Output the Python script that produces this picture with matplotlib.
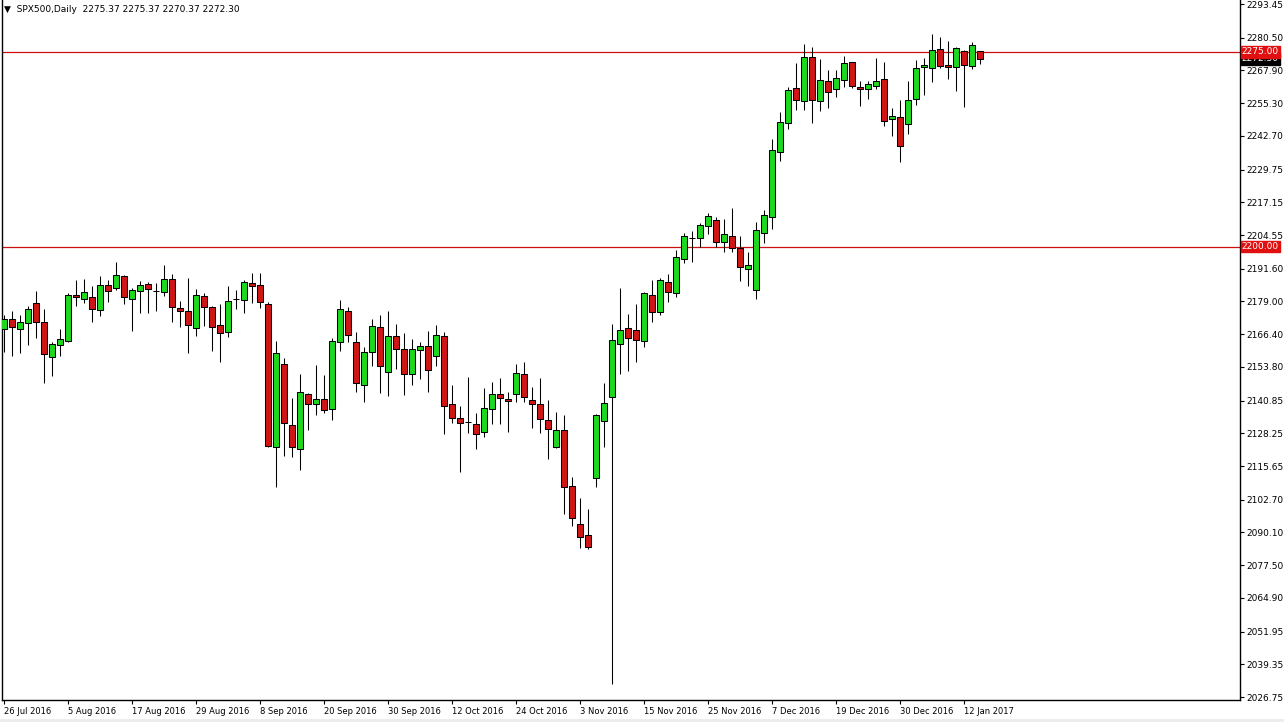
import numpy as np
import matplotlib
matplotlib.use('Agg')
import matplotlib.pyplot as plt

# **** data (SPX500 daily) ****
opens = [2168.3, 2172.1, 2168.5, 2170.6, 2178.3, 2171.0, 2157.7, 2162.1, 2163.8, 2181.5,
         2179.8, 2180.6, 2175.6, 2185.3, 2184.1, 2188.8, 2179.8, 2183.1, 2185.7, 2182.9,
         2182.5, 2187.5, 2176.4, 2175.2, 2168.7, 2181.1, 2177.0, 2169.9, 2167.4, 2179.8,
         2179.7, 2186.0, 2185.3, 2177.9, 2123.1, 2154.8, 2131.3, 2122.1, 2143.4, 2139.4,
         2141.3, 2137.5, 2163.3, 2175.2, 2163.4, 2146.7, 2159.7, 2169.1, 2152.0, 2165.7,
         2160.6, 2150.9, 2160.2, 2161.7, 2158.1, 2165.6, 2139.4, 2134.0, 2132.6, 2131.7,
         2128.6, 2137.5, 2143.3, 2141.3, 2143.3, 2150.9, 2140.9, 2139.4, 2133.3, 2123.1,
         2129.4, 2107.9, 2093.2, 2089.0, 2111.2, 2133.1, 2142.1, 2162.7, 2168.7, 2167.9,
         2163.7, 2181.4, 2174.8, 2186.4, 2182.4, 2195.5, 2203.4, 2203.3, 2208.1, 2210.2,
         2201.8, 2204.1, 2199.7, 2191.4, 2183.3, 2205.2, 2211.4, 2236.5, 2247.6, 2261.0,
         2256.0, 2273.0, 2256.0, 2263.7, 2260.6, 2264.1, 2271.0, 2261.4, 2260.6, 2261.8,
         2264.5, 2249.1, 2249.9, 2247.2, 2256.8, 2269.1, 2268.7, 2276.0, 2270.1, 2269.1,
         2275.5, 2269.5, 2275.37]
highs = [2173.8, 2175.3, 2173.8, 2177.2, 2183.0, 2176.1, 2163.5, 2168.3, 2182.4, 2187.3,
         2187.6, 2184.9, 2188.8, 2187.3, 2194.0, 2189.2, 2184.1, 2186.9, 2186.4, 2186.0,
         2193.0, 2189.6, 2179.2, 2187.9, 2183.8, 2182.4, 2177.2, 2178.0, 2184.9, 2183.4,
         2187.3, 2189.8, 2189.8, 2178.9, 2163.8, 2157.1, 2141.8, 2151.1, 2143.9, 2154.5,
         2150.7, 2164.8, 2179.6, 2177.0, 2167.4, 2161.4, 2172.1, 2173.8, 2175.3, 2170.3,
         2166.7, 2164.4, 2163.4, 2167.6, 2169.9, 2167.2, 2146.7, 2138.8, 2149.8, 2136.0,
         2145.7, 2147.9, 2149.5, 2144.0, 2154.8, 2155.6, 2146.2, 2149.4, 2141.1, 2136.4,
         2135.3, 2111.3, 2103.4, 2099.1, 2135.5, 2147.6, 2170.3, 2184.1, 2174.2, 2178.0,
         2182.6, 2187.1, 2187.9, 2189.6, 2198.8, 2205.5, 2206.1, 2209.3, 2213.1, 2211.5,
         2210.7, 2214.8, 2204.2, 2198.0, 2209.5, 2214.2, 2241.4, 2251.9, 2261.6, 2270.8,
         2278.1, 2276.9, 2272.2, 2267.9, 2268.1, 2273.5, 2271.3, 2263.8, 2263.8, 2272.7,
         2271.1, 2253.4, 2256.5, 2263.7, 2271.8, 2272.7, 2281.9, 2280.6, 2279.2, 2276.8,
         2275.7, 2278.7, 2275.37]
lows = [2159.7, 2158.1, 2159.0, 2162.2, 2165.1, 2147.5, 2150.4, 2158.1, 2163.5, 2177.3,
        2178.3, 2171.2, 2173.5, 2178.9, 2183.4, 2177.9, 2167.7, 2174.4, 2174.4, 2175.4,
        2181.2, 2171.0, 2169.3, 2159.0, 2165.8, 2169.7, 2160.1, 2155.8, 2165.4, 2176.1,
        2174.4, 2178.3, 2176.6, 2123.1, 2107.7, 2119.6, 2119.3, 2114.1, 2129.5, 2135.2,
        2136.2, 2133.4, 2159.9, 2163.5, 2144.3, 2140.4, 2154.3, 2143.9, 2142.7, 2153.1,
        2143.1, 2147.0, 2149.0, 2144.3, 2154.3, 2127.9, 2132.2, 2113.5, 2128.4, 2122.3,
        2126.7, 2131.9, 2131.9, 2128.9, 2140.4, 2140.4, 2130.4, 2128.5, 2118.3, 2122.5,
        2097.1, 2092.7, 2084.0, 2083.9, 2107.7, 2123.1, 2031.8, 2151.2, 2152.4, 2155.7,
        2161.5, 2171.2, 2173.9, 2178.9, 2180.8, 2193.9, 2194.3, 2199.8, 2204.8, 2199.8,
        2197.9, 2197.9, 2186.8, 2185.1, 2179.8, 2201.4, 2207.0, 2233.2, 2245.5, 2252.8,
        2252.8, 2247.8, 2252.2, 2253.6, 2257.8, 2261.6, 2261.3, 2254.3, 2257.0, 2260.9,
        2246.6, 2242.8, 2232.5, 2243.6, 2254.7, 2258.6, 2263.3, 2268.7, 2264.7, 2260.1,
        2253.7, 2268.3, 2270.37]
closes = [2172.1, 2169.1, 2171.0, 2176.0, 2171.0, 2158.7, 2162.5, 2164.4, 2181.5, 2180.6,
          2182.5, 2176.0, 2185.3, 2183.1, 2189.2, 2180.8, 2183.4, 2185.3, 2183.7, 2183.0,
          2187.5, 2177.0, 2175.4, 2169.8, 2181.5, 2176.7, 2169.3, 2167.0, 2179.1, 2179.9,
          2186.4, 2185.1, 2178.7, 2123.5, 2159.0, 2132.3, 2122.9, 2144.0, 2139.4, 2141.3,
          2137.2, 2163.8, 2176.0, 2166.0, 2147.5, 2159.5, 2169.5, 2154.3, 2165.7, 2160.8,
          2150.9, 2160.6, 2161.7, 2152.5, 2166.0, 2138.9, 2134.3, 2132.3, 2132.7, 2127.9,
          2137.9, 2143.3, 2141.7, 2140.6, 2151.3, 2142.3, 2139.7, 2133.6, 2129.8, 2129.4,
          2107.7, 2095.5, 2088.2, 2084.6, 2135.2, 2139.8, 2164.1, 2167.9, 2165.0, 2164.3,
          2182.1, 2174.8, 2187.1, 2182.8, 2196.0, 2204.1, 2203.3, 2208.3, 2211.8, 2201.8,
          2205.0, 2199.5, 2192.1, 2192.9, 2206.4, 2212.2, 2237.2, 2247.9, 2260.3, 2256.4,
          2273.0, 2256.4, 2264.3, 2259.5, 2264.9, 2270.6, 2261.8, 2260.6, 2262.6, 2263.7,
          2248.3, 2250.4, 2238.9, 2256.4, 2268.7, 2270.1, 2275.6, 2269.5, 2269.2, 2276.4,
          2269.9, 2277.6, 2272.30]

date_labels = ['26 Jul 2016', '5 Aug 2016', '17 Aug 2016', '29 Aug 2016', '8 Sep 2016',
               '20 Sep 2016', '30 Sep 2016', '12 Oct 2016', '24 Oct 2016', '3 Nov 2016',
               '15 Nov 2016', '25 Nov 2016', '7 Dec 2016', '19 Dec 2016', '30 Dec 2016',
               '12 Jan 2017']
price_ticks = [2293.45, 2280.50, 2267.90, 2255.30, 2242.70, 2229.75, 2217.15, 2204.55,
               2191.60, 2179.00, 2166.40, 2153.80, 2140.85, 2128.25, 2115.65, 2102.70,
               2090.10, 2077.50, 2064.90, 2051.95, 2039.35, 2026.75]
levels = [2275.00, 2200.00]
last_price = 2272.30

# **** plot ****
o = np.array(opens)
h = np.array(highs)
l = np.array(lows)
c = np.array(closes)
idx = np.arange(len(o))
up = c >= o

green = '#1ED81E'
red = '#D01515'
lw = 0.75

fig = plt.figure(figsize=(12.84, 7.22), dpi=100)
# thin grey window strip along the bottom edge
fig.patches.append(plt.Rectangle((0, 0), 1, 3 / 722, transform=fig.transFigure,
                                 fc='#EDEDED', ec='none'))
ax = fig.add_axes([2 / 1284, 22 / 722, 1238 / 1284, 700 / 722])

# levels
for lv in levels:
    ax.axhline(lv, color='#CC1111', lw=0.9, zorder=1)

# wicks + bodies
ax.vlines(idx, l, h, color='black', lw=lw, zorder=2)
ax.bar(idx[up], (c - o)[up], bottom=o[up], width=0.72, color=green,
       edgecolor='black', lw=lw, zorder=3)
ax.bar(idx[~up], (o - c)[~up], bottom=c[~up], width=0.72, color=red,
       edgecolor='black', lw=lw, zorder=3)

ax.set_xlim(-0.25, 154.5)
ax.set_ylim(2025.6, 2295.0)

# axes look
for s in ['left', 'bottom', 'right']:
    ax.spines[s].set_linewidth(1.0)
    ax.spines[s].set_color('black')
ax.spines['top'].set_visible(False)

ax.yaxis.tick_right()
ax.set_yticks(price_ticks)
ax.set_yticklabels([f'{p:.2f}' for p in price_ticks])
ax.tick_params(axis='y', direction='out', length=3, width=0.8, pad=1.5,
               labelsize=6.5, colors='black')

ax.set_xticks(idx[::8][:len(date_labels)])
ax.set_xticklabels(date_labels, ha='left')
ax.tick_params(axis='x', direction='out', length=3, width=0.8, pad=2,
               labelsize=6.0, colors='black')

# price labels on the right axis
ytr = ax.get_yaxis_transform()
ax.text(1.0015, last_price, f'{last_price:.2f}', transform=ytr, ha='left', va='center',
        fontsize=6.5, color='white', clip_on=False, zorder=5,
        bbox=dict(boxstyle='square,pad=0.12', fc='black', ec='black'))
for lv in levels:
    ax.text(1.0015, lv, f'{lv:.2f}', transform=ytr, ha='left', va='center',
            fontsize=6.5, color='white', clip_on=False, zorder=6,
            bbox=dict(boxstyle='square,pad=0.12', fc='#E01010', ec='#E01010'))

# header text
fig.text(4 / 1284, 1 - 9 / 722, '\u25BC  SPX500,Daily  2275.37 2275.37 2270.37 2272.30',
         fontsize=6.5, va='center', ha='left')

fig.savefig('out.png', dpi=100)
